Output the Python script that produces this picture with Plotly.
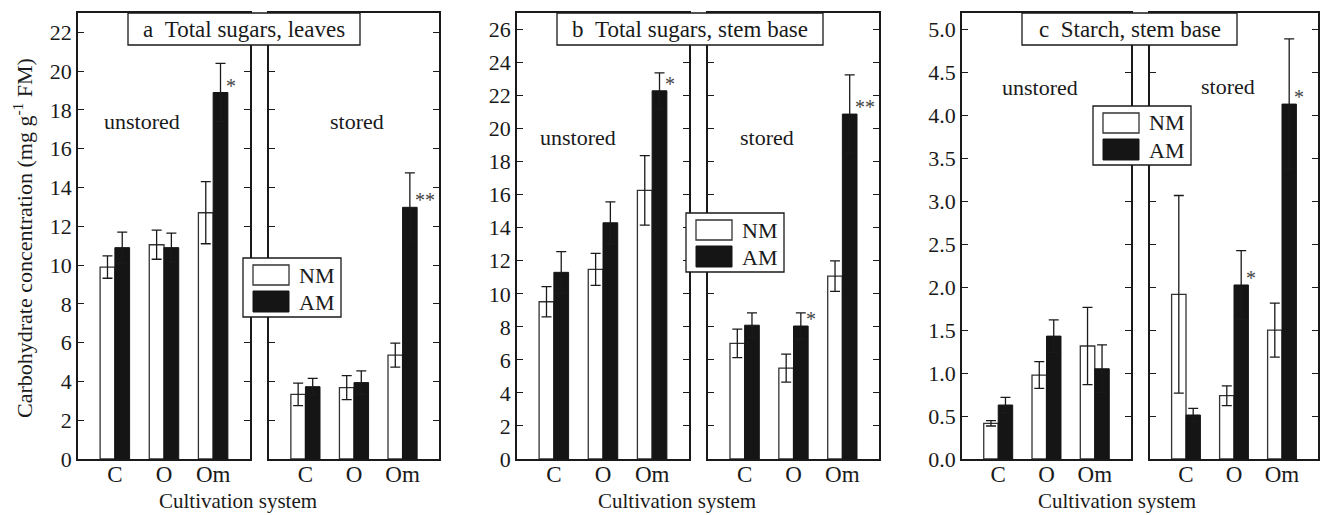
import plotly.graph_objects as go

# ---------------- data ----------------
categories = ["C", "O", "Om"]

# Panel a: Total sugars, leaves
a_unstored_nm = [9.9, 11.05, 12.7]
a_unstored_nm_err = [0.58, 0.75, 1.6]
a_unstored_am = [10.9, 10.9, 18.9]
a_unstored_am_err = [0.8, 0.75, 1.5]
a_unstored_sig = ["", "", "*"]
a_stored_nm = [3.33, 3.68, 5.36]
a_stored_nm_err = [0.58, 0.62, 0.62]
a_stored_am = [3.73, 3.94, 12.98]
a_stored_am_err = [0.43, 0.6, 1.78]
a_stored_sig = ["", "", "**"]

# Panel b: Total sugars, stem base
b_unstored_nm = [9.52, 11.48, 16.26]
b_unstored_nm_err = [0.91, 0.97, 2.1]
b_unstored_am = [11.3, 14.3, 22.29]
b_unstored_am_err = [1.25, 1.27, 1.09]
b_unstored_sig = ["", "", "*"]
b_stored_nm = [7.0, 5.5, 11.07]
b_stored_nm_err = [0.86, 0.85, 0.92]
b_stored_am = [8.1, 8.05, 20.88]
b_stored_am_err = [0.75, 0.8, 2.38]
b_stored_sig = ["", "*", "**"]

# Panel c: Starch, stem base
c_unstored_nm = [0.415, 0.977, 1.315]
c_unstored_nm_err = [0.031, 0.155, 0.45]
c_unstored_am = [0.628, 1.43, 1.05]
c_unstored_am_err = [0.09, 0.19, 0.277]
c_unstored_sig = ["", "", ""]
c_stored_nm = [1.916, 0.737, 1.50]
c_stored_nm_err = [1.15, 0.115, 0.315]
c_stored_am = [0.512, 2.025, 4.13]
c_stored_am_err = [0.078, 0.4, 0.76]
c_stored_sig = ["", "*", "*"]

panel_titles = ["a\u00a0\u00a0Total sugars, leaves",
                "b\u00a0\u00a0Total sugars, stem base",
                "c\u00a0\u00a0Starch, stem base"]
y_ranges = [[0, 23], [0, 27], [0, 5.19]]
y_dticks = [2, 2, 0.5]
y_formats = ["d", "d", ".1f"]
series_names = ["NM", "AM"]
x_title = "Cultivation system"
y_title = "Carbohydrate concentration (mg g<sup>-1</sup> FM)"

# ---------------- layout geometry (pixels) ----------------
W, H = 1322, 515
FONT = "Liberation Serif"
INK = "#1a1a1a"
sub_x = [(78, 250), (269, 439), (517, 689), (708, 879), (962, 1131), (1150, 1318)]
y_bot_px, y_top_px = 459, 13
title_boxes = [(128, 360), (557, 823), (1022, 1237)]
legend_origins = [(243, 258), (686, 213), (1093, 106)]
cond_label_pos = [[(142, 122), (357, 122)],
                  [(578, 138), (767, 138)],
                  [(1040, 87), (1228, 86)]]
xtitle_x = [238, 677, 1117]

def px(x):
    return x / W

def py(y):
    return 1 - y / H

data_sets = [
    [(a_unstored_nm, a_unstored_nm_err, a_unstored_am, a_unstored_am_err, a_unstored_sig),
     (a_stored_nm, a_stored_nm_err, a_stored_am, a_stored_am_err, a_stored_sig)],
    [(b_unstored_nm, b_unstored_nm_err, b_unstored_am, b_unstored_am_err, b_unstored_sig),
     (b_stored_nm, b_stored_nm_err, b_stored_am, b_stored_am_err, b_stored_sig)],
    [(c_unstored_nm, c_unstored_nm_err, c_unstored_am, c_unstored_am_err, c_unstored_sig),
     (c_stored_nm, c_stored_nm_err, c_stored_am, c_stored_am_err, c_stored_sig)],
]

fig = go.Figure()
layout = dict(
    width=W, height=H, autosize=False,
    margin=dict(l=0, r=0, t=0, b=0, pad=0, autoexpand=False),
    paper_bgcolor="white", plot_bgcolor="white",
    showlegend=False, barmode="overlay",
    font=dict(family=FONT, size=22, color=INK),
)
annotations = []
shapes = []

BAR_W = 0.3
xpos = list(range(len(categories)))

for p in range(3):
    for s in range(2):
        k = p * 2 + s + 1
        xa = "x" if k == 1 else f"x{k}"
        ya = "y" if k == 1 else f"y{k}"
        nm, nm_err, am, am_err, sig = data_sets[p][s]
        fig.add_trace(go.Bar(
            x=xpos, y=nm, width=BAR_W, offset=-BAR_W, name=series_names[0],
            marker=dict(color="white", line=dict(color="#333333", width=1.3)),
            error_y=dict(type="data", array=nm_err, visible=True,
                         color=INK, thickness=1.3, width=5),
            xaxis=xa, yaxis=ya))
        fig.add_trace(go.Bar(
            x=xpos, y=am, width=BAR_W, offset=0, name=series_names[1],
            marker=dict(color="#151515", line=dict(color="#151515", width=1)),
            error_y=dict(type="data", array=am_err, visible=True,
                         color=INK, thickness=1.3, width=5),
            xaxis=xa, yaxis=ya))
        x0, x1 = sub_x[k - 1]
        layout["xaxis" if k == 1 else f"xaxis{k}"] = dict(
            domain=[px(x0), px(x1)], anchor=ya, range=[-0.75, 2.75],
            tickvals=xpos, ticktext=categories, ticks="",
            showline=True, linecolor=INK, linewidth=1.5, mirror=True,
            showgrid=False, zeroline=False, fixedrange=True, automargin=False,
            ticklabelstandoff=-6, tickfont=dict(size=23))
        layout["yaxis" if k == 1 else f"yaxis{k}"] = dict(
            domain=[py(y_bot_px), py(y_top_px)], anchor=xa,
            range=y_ranges[p], dtick=y_dticks[p], tick0=0,
            tickformat=y_formats[p],
            ticks="inside", ticklen=6, tickwidth=1.3, tickcolor=INK,
            showline=True, linecolor=INK, linewidth=1.5, mirror="ticks",
            showgrid=False, zeroline=False, fixedrange=True, automargin=False,
            showticklabels=(s == 0), tickfont=dict(size=22))
        # significance asterisks
        for i, mark in enumerate(sig):
            if mark:
                annotations.append(dict(
                    x=xpos[i] + BAR_W, y=am[i], xref=xa, yref=ya,
                    text=mark, showarrow=False, xanchor="left", yanchor="middle",
                    xshift=-4, yshift=7, font=dict(size=20, color="#444444")))
        # condition label
        cx, cy = cond_label_pos[p][s]
        annotations.append(dict(
            x=px(cx), y=py(cy), xref="paper", yref="paper",
            text=["unstored", "stored"][s], showarrow=False,
            xanchor="center", yanchor="middle", font=dict(size=22)))

    # title box
    bx0, bx1 = title_boxes[p]
    shapes.append(dict(type="rect", xref="paper", yref="paper",
                       x0=px(bx0), x1=px(bx1), y0=py(45), y1=py(y_top_px),
                       fillcolor="white", line=dict(color=INK, width=1.3),
                       layer="above"))
    annotations.append(dict(
        x=px((bx0 + bx1) / 2), y=py(29), xref="paper", yref="paper",
        text=panel_titles[p], showarrow=False, xanchor="center", yanchor="middle",
        font=dict(size=23)))

    # legend box
    L, T = legend_origins[p]
    shapes.append(dict(type="rect", xref="paper", yref="paper",
                       x0=px(L), x1=px(L + 98), y0=py(T + 59), y1=py(T),
                       fillcolor="white", line=dict(color=INK, width=1.3),
                       layer="above"))
    shapes.append(dict(type="rect", xref="paper", yref="paper",
                       x0=px(L + 10), x1=px(L + 46), y0=py(T + 27), y1=py(T + 7),
                       fillcolor="white", line=dict(color="#333333", width=1.3),
                       layer="above"))
    shapes.append(dict(type="rect", xref="paper", yref="paper",
                       x0=px(L + 10), x1=px(L + 46), y0=py(T + 54), y1=py(T + 33),
                       fillcolor="#151515", line=dict(color="#151515", width=1),
                       layer="above"))
    for j, nm_txt in enumerate(series_names):
        annotations.append(dict(
            x=px(L + 54), y=py(T + 17 + 27 * j), xref="paper", yref="paper",
            text=nm_txt, showarrow=False, xanchor="left", yanchor="middle",
            font=dict(size=22)))

    # x title
    annotations.append(dict(
        x=px(xtitle_x[p]), y=0, xref="paper", yref="paper",
        text=x_title, showarrow=False, xanchor="center", yanchor="bottom",
        yshift=0, font=dict(size=21)))

# y title
annotations.append(dict(
    x=px(23), y=py(238), xref="paper", yref="paper", text=y_title,
    showarrow=False, textangle=-90, xanchor="center", yanchor="middle",
    font=dict(size=22)))

layout["annotations"] = annotations
layout["shapes"] = shapes
fig.update_layout(**layout)

post = "document.body.style.margin='0';document.body.style.overflow='hidden';"
fig.write_html("out.html", config={"displayModeBar": False}, post_script=post)
